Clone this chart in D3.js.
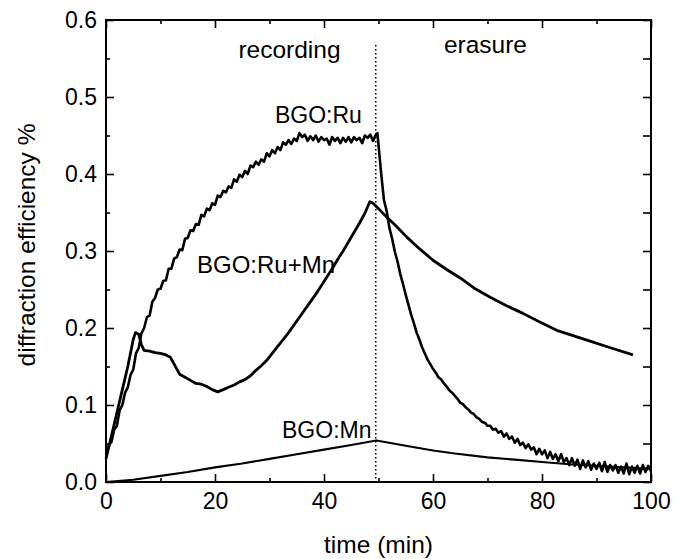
<!DOCTYPE html>
<html>
<head>
<meta charset="utf-8">
<script src="https://cdn.jsdelivr.net/npm/d3@7"></script>
<style>
  body { margin: 0; background: #fff; }
  svg { display: block; font-family: "Liberation Sans", Arial, sans-serif; }
  .frame { fill: none; stroke: #000; stroke-width: 2; }
  .axis path { display: none; }
  .axis line { stroke: #000; stroke-width: 1.6; }
  .axis text { font-size: 23px; fill: #000; }
  .trace { fill: none; stroke: #000; stroke-linejoin: round; }
  .note { font-size: 23px; fill: #000; }
</style>
</head>
<body>
<div id="chart"></div>
<script>
// tick positions
const xMajor = [0, 20, 40, 60, 80, 100];
const xMinor = [10, 30, 50, 70, 90];
const yMajor = [0, 0.1, 0.2, 0.3, 0.4, 0.5, 0.6];
const yMinor = [0.05, 0.15, 0.25, 0.35, 0.45, 0.55];

// switch from recording to erasure (min)
const switchTime = 49.5;

// BGO:Ru (noisy trace)
const ruTime = [0, 0.5, 1, 1.5, 2, 2.5, 3, 3.5, 4, 4.5, 5, 5.5, 6, 6.5, 7, 7.5, 8, 8.5, 9, 9.5,
  10, 10.5, 11, 11.5, 12, 12.5, 13, 13.5, 14, 14.5, 15, 15.5, 16, 16.5, 17, 17.5, 18, 18.5, 19, 19.5,
  20, 20.5, 21, 21.5, 22, 22.5, 23, 23.5, 24, 24.5, 25, 25.5, 26, 26.5, 27, 27.5, 28, 28.5, 29, 29.5,
  30, 30.5, 31, 31.5, 32, 32.5, 33, 33.5, 34, 34.5, 35, 35.5, 36, 36.5, 37, 37.5, 38, 38.5, 39, 39.5,
  40, 40.5, 41, 41.5, 42, 42.5, 43, 43.5, 44, 44.5, 45, 45.5, 46, 46.5, 47, 47.5, 48, 48.5, 49, 49.5,
  49.8, 50.5, 51, 51.5, 52, 52.5, 53, 53.5, 54, 54.5, 55, 55.5, 56, 56.5, 57, 57.5, 58, 58.5, 59, 59.5,
  60, 60.5, 61, 61.5, 62, 62.5, 63, 63.5, 64, 64.5, 65, 65.5, 66, 66.5, 67, 67.5, 68, 68.5, 69, 69.5,
  70, 70.5, 71, 71.5, 72, 72.5, 73, 73.5, 74, 74.5, 75, 75.5, 76, 76.5, 77, 77.5, 78, 78.5, 79, 79.5,
  80, 80.5, 81, 81.5, 82, 82.5, 83, 83.5, 84, 84.5, 85, 85.5, 86, 86.5, 87, 87.5, 88, 88.5, 89, 89.5,
  90, 90.5, 91, 91.5, 92, 92.5, 93, 93.5, 94, 94.5, 95, 95.5, 96, 96.5, 97, 97.5, 98, 98.5, 99, 99.5, 100];
const ruEff = [0.035, 0.048, 0.052, 0.068, 0.073, 0.093, 0.100, 0.116, 0.123, 0.139,
  0.146, 0.167, 0.174, 0.193, 0.200, 0.214, 0.216, 0.234, 0.239, 0.250,
  0.251, 0.261, 0.262, 0.277, 0.277, 0.290, 0.292, 0.302, 0.301, 0.316,
  0.317, 0.327, 0.326, 0.335, 0.334, 0.347, 0.345, 0.355, 0.353, 0.362,
  0.360, 0.372, 0.370, 0.378, 0.376, 0.384, 0.382, 0.393, 0.390, 0.399,
  0.396, 0.404, 0.400, 0.411, 0.409, 0.416, 0.412, 0.419, 0.416, 0.427,
  0.423, 0.431, 0.427, 0.435, 0.431, 0.441, 0.438, 0.444, 0.439, 0.446,
  0.443, 0.453, 0.448, 0.451, 0.443, 0.449, 0.444, 0.450, 0.442, 0.448,
  0.444, 0.446, 0.438, 0.448, 0.443, 0.447, 0.440, 0.447, 0.442, 0.448,
  0.441, 0.448, 0.444, 0.447, 0.440, 0.450, 0.447, 0.451, 0.443, 0.451,
  0.453, 0.400, 0.366, 0.352, 0.330, 0.316, 0.299, 0.286, 0.270, 0.257,
  0.243, 0.230, 0.217, 0.206, 0.194, 0.185, 0.175, 0.167, 0.159, 0.153,
  0.147, 0.142, 0.136, 0.133, 0.128, 0.124, 0.119, 0.116, 0.112, 0.108,
  0.103, 0.101, 0.097, 0.094, 0.090, 0.088, 0.084, 0.082, 0.078, 0.077,
  0.073, 0.073, 0.068, 0.069, 0.064, 0.066, 0.059, 0.063, 0.056, 0.059,
  0.051, 0.056, 0.048, 0.051, 0.044, 0.049, 0.042, 0.045, 0.036, 0.043,
  0.036, 0.041, 0.031, 0.039, 0.030, 0.036, 0.027, 0.036, 0.026, 0.031,
  0.022, 0.031, 0.021, 0.029, 0.017, 0.028, 0.019, 0.027, 0.016, 0.024,
  0.017, 0.025, 0.014, 0.026, 0.013, 0.022, 0.015, 0.022, 0.012, 0.020,
  0.011, 0.024, 0.010, 0.020, 0.012, 0.021, 0.011, 0.022, 0.013, 0.021, 0.014];

// BGO:Ru+Mn
const ruMnTime = [0, 1, 2, 3, 4, 5, 5.4, 6, 6.5, 7, 8, 9, 10, 11, 11.8, 12.5, 13.5, 14.5,
  15.5, 16.5, 17.5, 18.5, 19.5, 20.5, 21.5, 22.5, 23.5, 24.5, 25.5, 26.5, 27.5, 28.5,
  29.5, 30.5, 31.5, 32.5, 33.5, 34.5, 35.5, 36.5, 37.5, 38.5, 39.5, 40.5, 41.5, 42.5,
  43.5, 44.5, 45.5, 46.5, 47.5, 48.4, 49, 50, 51.5, 53, 55.2, 57.5, 60, 62.5, 65, 67.5,
  70.5, 73.5, 76.5, 79.5, 82.7, 85.7, 88.8, 92.7, 96.7];
const ruMnEff = [0.03, 0.06, 0.09, 0.12, 0.15, 0.185, 0.194, 0.192, 0.178, 0.171, 0.17,
  0.168, 0.167, 0.165, 0.162, 0.153, 0.14, 0.136, 0.132, 0.128, 0.127, 0.124, 0.12,
  0.117, 0.12, 0.123, 0.126, 0.13, 0.133, 0.138, 0.145, 0.151, 0.158, 0.167, 0.176,
  0.185, 0.194, 0.204, 0.214, 0.224, 0.234, 0.244, 0.255, 0.266, 0.277, 0.289, 0.3,
  0.312, 0.324, 0.336, 0.349, 0.364, 0.362, 0.355, 0.344, 0.334, 0.318, 0.303, 0.288,
  0.276, 0.265, 0.252, 0.24, 0.229, 0.219, 0.208, 0.197, 0.19, 0.183, 0.174, 0.165];

// BGO:Mn
const mnTime = [0, 5, 10, 15, 20, 25, 30, 35, 40, 45, 49.6, 55, 60, 64, 70, 75, 80, 85, 90, 95, 100];
const mnEff = [0, 0.003, 0.008, 0.013, 0.019, 0.024, 0.03, 0.036, 0.042, 0.048, 0.054,
  0.047, 0.041, 0.037, 0.032, 0.029, 0.026, 0.023, 0.021, 0.019, 0.017];

const W = 681, H = 559;
const margin = { top: 20, right: 30, bottom: 77, left: 106 };
const w = W - margin.left - margin.right;
const h = H - margin.top - margin.bottom;

const svg = d3.select('#chart').append('svg')
  .attr('width', W)
  .attr('height', H);

const g = svg.append('g').attr('transform', `translate(${margin.left},${margin.top})`);

const x = d3.scaleLinear().domain([0, 100]).range([0, w]);
const y = d3.scaleLinear().domain([0, 0.6]).range([h, 0]);

const toPts = (ts, vs) => ts.map((t, i) => [t, vs[i]]);
const line = d3.line().x(d => x(d[0])).y(d => y(d[1]));

// traces
g.append('path').attr('class', 'trace').attr('stroke-width', 2.1)
  .attr('d', line(toPts(mnTime, mnEff)));
g.append('path').attr('class', 'trace').attr('stroke-width', 2.8)
  .attr('d', line(toPts(ruMnTime, ruMnEff)));
g.append('path').attr('class', 'trace').attr('stroke-width', 2.6)
  .attr('d', line(toPts(ruTime, ruEff)));

// dotted separator
g.append('line')
  .attr('x1', x(switchTime)).attr('x2', x(switchTime))
  .attr('y1', 25).attr('y2', h)
  .attr('stroke', '#000').attr('stroke-width', 1.5)
  .attr('stroke-dasharray', '1.5,2.5');

// ticks, inward on all four sides
const fmtY = d3.format('.1f');
g.append('g').attr('class', 'axis').attr('transform', `translate(0,${h})`)
  .call(d3.axisBottom(x).tickValues(xMajor).tickSize(-8).tickPadding(11));
g.append('g').attr('class', 'axis').attr('transform', `translate(0,${h})`)
  .call(d3.axisBottom(x).tickValues(xMinor).tickSize(-4).tickFormat(''));
g.append('g').attr('class', 'axis')
  .call(d3.axisTop(x).tickValues(xMajor).tickSize(-8).tickFormat(''));
g.append('g').attr('class', 'axis')
  .call(d3.axisTop(x).tickValues(xMinor).tickSize(-4).tickFormat(''));
g.append('g').attr('class', 'axis')
  .call(d3.axisLeft(y).tickValues(yMajor).tickSize(-8).tickPadding(9).tickFormat(fmtY));
g.append('g').attr('class', 'axis')
  .call(d3.axisLeft(y).tickValues(yMinor).tickSize(-4).tickFormat(''));
g.append('g').attr('class', 'axis').attr('transform', `translate(${w},0)`)
  .call(d3.axisRight(y).tickValues(yMajor).tickSize(-8).tickFormat(''));
g.append('g').attr('class', 'axis').attr('transform', `translate(${w},0)`)
  .call(d3.axisRight(y).tickValues(yMinor).tickSize(-8).tickFormat(''));

g.append('rect').attr('class', 'frame').attr('width', w).attr('height', h);

// labels
g.append('text').attr('class', 'note').style('font-size', '24.5px')
  .attr('x', x(24.3)).attr('y', 38).text('recording');
g.append('text').attr('class', 'note').style('font-size', '24.5px')
  .attr('x', x(62)).attr('y', 33).text('erasure');
g.append('text').attr('class', 'note').attr('x', x(31)).attr('y', 103).text('BGO:Ru');
g.append('text').attr('class', 'note').style('font-size', '24px')
  .attr('x', x(16.7)).attr('y', 253).text('BGO:Ru+Mn');
g.append('text').attr('class', 'note').attr('x', x(32.3)).attr('y', 418).text('BGO:Mn');

svg.append('text')
  .attr('x', margin.left + w / 2).attr('y', 553)
  .attr('text-anchor', 'middle')
  .style('font-size', '24.5px')
  .text('time (min)');

svg.append('text')
  .attr('transform', 'translate(35,245) rotate(-90)')
  .attr('text-anchor', 'middle')
  .style('font-size', '24.5px')
  .text('diffraction efficiency %');
</script>
</body>
</html>
